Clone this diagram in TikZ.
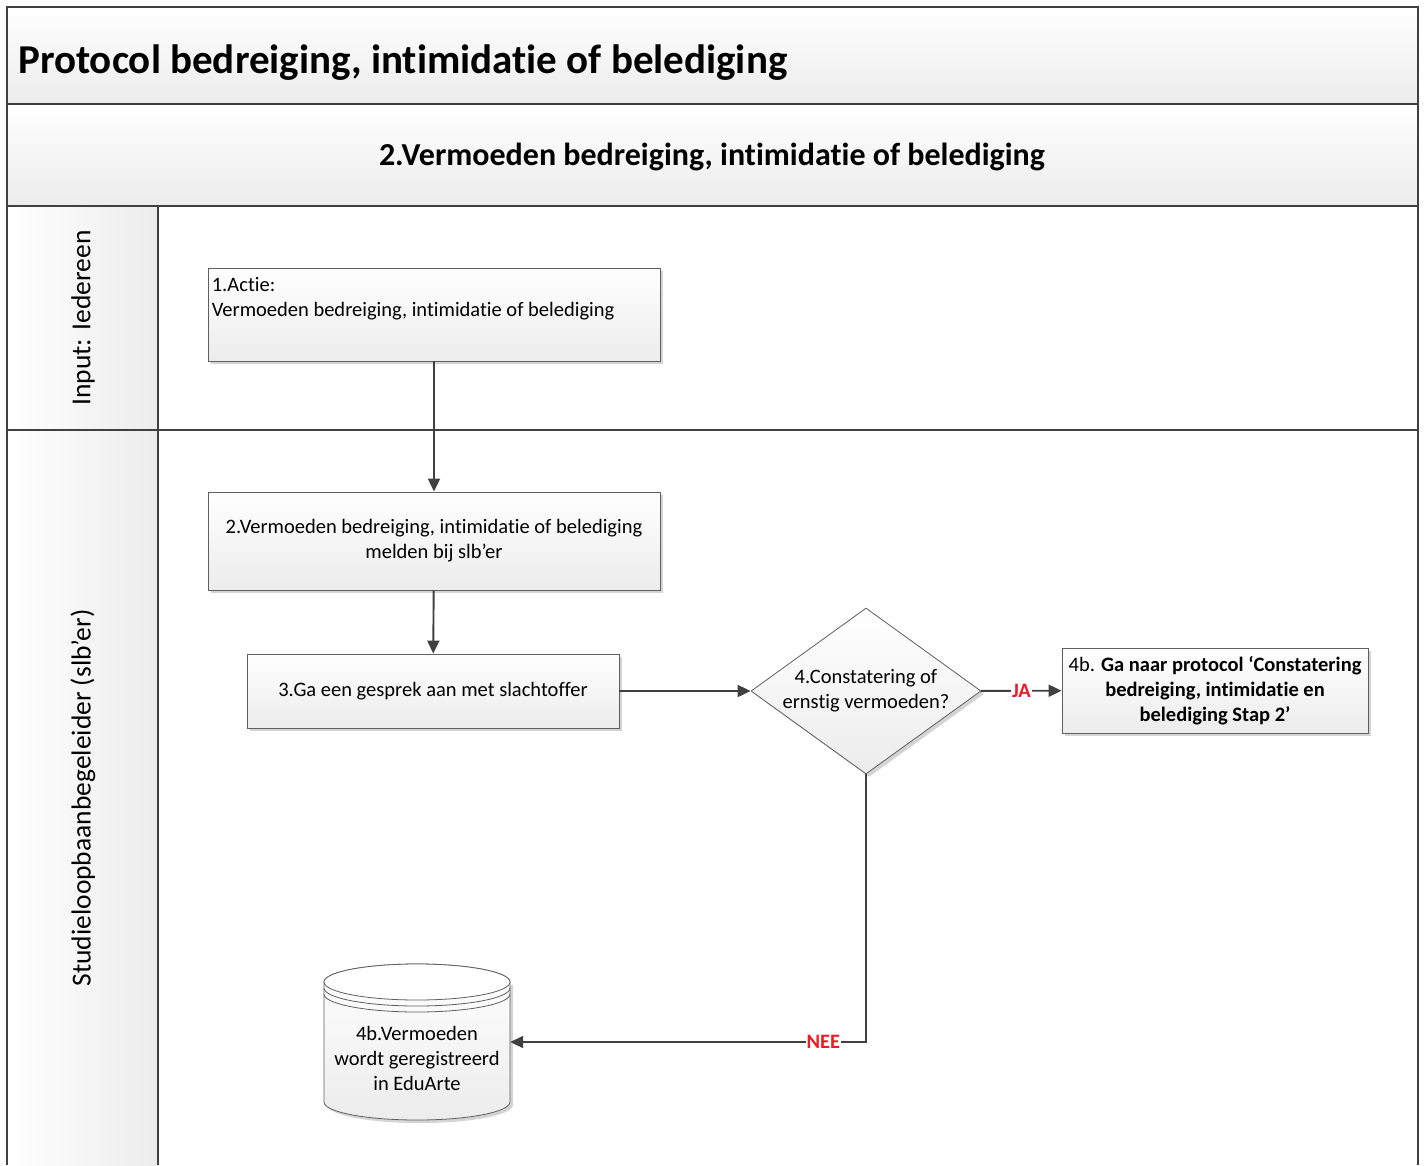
\documentclass[tikz,border=0pt]{standalone}
\usepackage{fontspec}
\setmainfont{Carlito}[Ligatures=NoCommon]
\usepackage{xcolor}
\definecolor{lijn}{RGB}{64,64,64}
\definecolor{rand}{RGB}{95,95,95}
\definecolor{kop}{RGB}{236,236,236}
\definecolor{schaduw}{RGB}{212,212,212}
\definecolor{rood}{RGB}{237,28,36}
\usetikzlibrary{shapes.geometric, arrows.meta, positioning, shadows}

\begin{document}
\begin{tikzpicture}[x=1pt, y=-1pt,
        stap/.style={rectangle, draw=rand, line width=0.8pt, top color=white, bottom color=kop, drop shadow={shadow xshift=3pt, shadow yshift=-3pt, fill=schaduw, opacity=1}, font=\fontsize{20.5}{25}\selectfont, align=center, inner sep=0pt},
        keuze/.style={diamond, draw=rand, line width=0.8pt, top color=white, bottom color=kop, drop shadow={shadow xshift=3pt, shadow yshift=-3pt, fill=schaduw, opacity=1}, font=\fontsize{20.5}{25}\selectfont, align=center, inner sep=0pt},
        tekst/.style={font=\fontsize{20.5}{25}\selectfont, align=center, inner sep=0pt},
        baan/.style={font=\fontsize{27.5}{32}\selectfont, rotate=90, inner sep=0pt},
        kader/.style={draw=lijn, line width=1.6pt},
        pijl/.style={-{Triangle[length=13pt, width=12pt]}, line width=1.9pt, color=lijn},
        keus/.style={font=\fontsize{20.5}{24}\selectfont\bfseries, text=rood, fill=white, inner sep=1pt}
    ]
        \useasboundingbox (0,0) rectangle (1424,1165);

        \shade[top color=white, bottom color=kop] (7,7) rectangle (1418,104);
        \shade[top color=white, bottom color=kop] (7,104) rectangle (1418,206);
        \shade[left color=white, right color=kop] (7,206) rectangle (158,1165);
        \draw[kader] (7,1165) -- (7,7) -- (1418,7) -- (1418,1165);
        \draw[kader] (7,104) -- (1418,104);
        \draw[kader] (7,206) -- (1418,206);
        \draw[kader] (7,430) -- (1418,430);
        \draw[kader] (158,206) -- (158,1165);

        \node[anchor=west, inner sep=0pt, font=\fontsize{41}{48}\selectfont\bfseries] (titel) at (18,63) {Protocol bedreiging, intimidatie of belediging};
        \node[inner sep=0pt, font=\fontsize{32}{38}\selectfont\bfseries] (fase) at (712,157) {2.Vermoeden bedreiging, intimidatie of belediging};
        \node[baan] (iedereen) at (83,318) {Input: Iedereen};
        \node[baan] (slber) at (83,798) {Studieloopbaanbegeleider (slb’er)};

        \node[stap, minimum width=452pt, minimum height=93pt] (actie) at (434,314.5) {};
        \node[tekst, anchor=north west, align=left] (actietxt) at ([xshift=4pt, yshift=-10pt]actie.north west) {1.Actie:\\Vermoeden bedreiging, intimidatie of belediging};
        \node[stap, minimum width=452pt, minimum height=98pt] (melden) at (434,541) {2.Vermoeden bedreiging, intimidatie of belediging\\melden bij slb’er};
        \node[stap, minimum width=372pt, minimum height=74pt] (gesprek) at (433,691) {3.Ga een gesprek aan met slachtoffer};
        \node[keuze, minimum width=230pt, minimum height=166pt, aspect=1.39] (ernstig) at (866,691) {4.Constatering of\\ernstig vermoeden?};
        \node[stap, minimum width=306pt, minimum height=85pt] (stap2) at (1215,690.5) {4b. \textbf{Ga naar protocol ‘Constatering}\\\textbf{bedreiging, intimidatie en}\\\textbf{belediging Stap 2’}};

        \fill[schaduw] (327,985) -- (327,1105) arc[start angle=180, end angle=360, x radius=93pt, y radius=18pt] -- (513,985) -- cycle;
        \shade[top color=white, bottom color=kop, draw=rand, line width=0.8pt] (324,982) -- (324,1102) arc[start angle=180, end angle=360, x radius=93pt, y radius=18pt] -- (510,982) arc[start angle=0, end angle=180, x radius=93pt, y radius=18pt] -- cycle;
        \draw[draw=rand, line width=0.8pt, fill=white] (417,982) ellipse[x radius=93pt, y radius=18pt];
        \draw[draw=rand, line width=0.8pt] (324,988) arc[start angle=180, end angle=360, x radius=93pt, y radius=18pt];
        \draw[draw=rand, line width=0.8pt] (324,994) arc[start angle=180, end angle=360, x radius=93pt, y radius=18pt];
        \node[minimum width=186pt, minimum height=156pt, inner sep=0pt] (eduarte) at (417,1042) {};
        \node[tekst] (eduartetxt) at (417,1058) {4b.Vermoeden\\wordt geregistreerd\\in EduArte};

        \draw[pijl] (actie) -- (melden);
        \draw[pijl] (melden) -- (gesprek);
        \draw[pijl] (gesprek) -- (ernstig);
        \draw[pijl] (ernstig) -- node[keus] {JA} (stap2);
        \draw[pijl] (ernstig.south) |- node[keus, pos=0.56] {NEE} (eduarte.east);
    \end{tikzpicture}
\end{document}
